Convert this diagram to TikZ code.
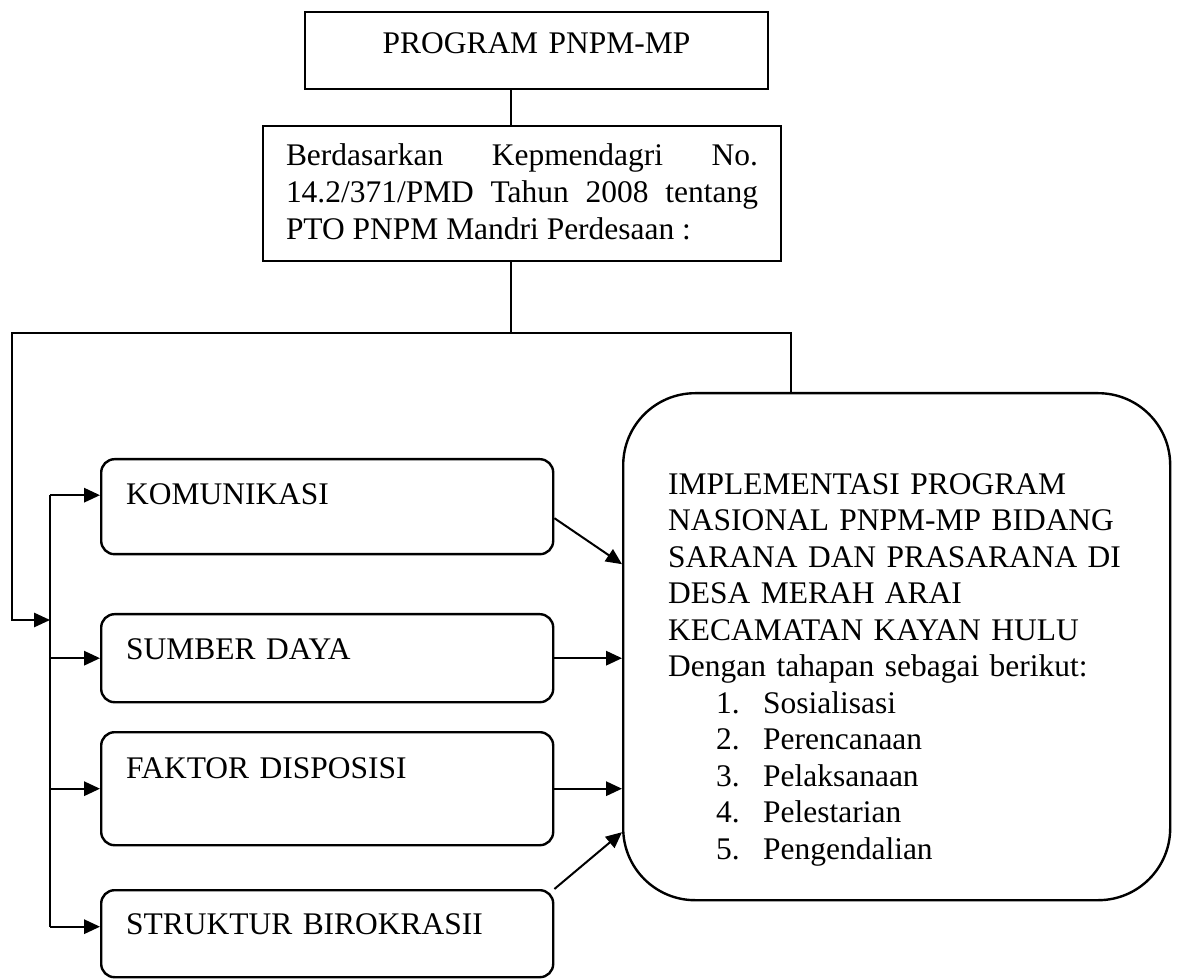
\documentclass[tikz,border=0pt]{standalone}
\usepackage{fontspec}
\setmainfont{Liberation Serif}
\usetikzlibrary{arrows.meta}
\newlength\pxu
\setlength\pxu{0.375pt}
\newcommand\tahap[1]{\hspace*{48\pxu}\makebox[47\pxu][l]{#1}}

\begin{document}
\begin{tikzpicture}[x=\pxu, y=-\pxu,
    font=\fontsize{11.8pt}{13.7pt}\selectfont,
    kotak/.style={draw, line width=0.75pt, anchor=north west, inner ysep=0pt},
    faktor/.style={draw, line width=0.9pt, rounded corners=5pt, anchor=north west, inner xsep=25\pxu, inner ysep=0pt, text width=402\pxu, align=left},
    garis/.style={line width=0.6pt},
    panah/.style={-{Triangle[length=6pt, width=5.4pt]}, line width=0.75pt}]
    \useasboundingbox (0,0) rectangle (1178,979);
    \node[kotak, inner xsep=0pt, text width=463\pxu, align=center, text height=42\pxu, text depth=35\pxu] (program) at (304,11) {PROGRAM PNPM-MP};
    \node[kotak, inner xsep=23\pxu, text width=472\pxu, align=justify, text height=40\pxu, text depth=95\pxu] (dasar) at (262,125) {Berdasarkan Kepmendagri No.\linebreak 14.2/371/PMD Tahun 2008 tentang\linebreak PTO PNPM Mandri Perdesaan :};
    \node[faktor, text height=45\pxu, text depth=50\pxu] (komunikasi) at (100,458) {KOMUNIKASI};
    \node[faktor, text height=45\pxu, text depth=43\pxu] (sumberdaya) at (100,613) {SUMBER DAYA};
    \node[faktor, text height=46\pxu, text depth=67\pxu] (disposisi) at (100,731) {FAKTOR DISPOSISI};
    \node[faktor, text height=44\pxu, text depth=43\pxu] (birokrasi) at (100,889) {STRUKTUR BIROKRASII};
    \node[draw, line width=0.9pt, rounded corners=72\pxu, anchor=north west, inner xsep=45\pxu, inner ysep=0pt, text width=457\pxu, align=left, text height=101\pxu, text depth=406\pxu] (implementasi) at (622,392) {IMPLEMENTASI PROGRAM\\
        NASIONAL PNPM-MP BIDANG\\
        \mbox{SARANA DAN PRASARANA DI}\\
        DESA MERAH ARAI\\
        KECAMATAN KAYAN HULU\\
        Dengan tahapan sebagai berikut:\\
        \tahap{1.}Sosialisasi\\
        \tahap{2.}Perencanaan\\
        \tahap{3.}Pelaksanaan\\
        \tahap{4.}Pelestarian\\
        \tahap{5.}Pengendalian};
    \coordinate (batang) at (511,333);
    \coordinate (kiri) at (12,333);
    \coordinate (kanan) at (791,333);
    \coordinate (bus) at (50,620);
    \coordinate (masuk1) at ([yshift=11.5\pxu]komunikasi.west);
    \coordinate (masuk4) at ([yshift=7\pxu]birokrasi.west);
    \draw[garis] (batang |- program.south) -- (batang |- dasar.north);
    \draw[garis] (batang |- dasar.south) -- (batang);
    \draw[panah, line width=0.6pt] (kanan |- implementasi.north) -- (kanan) -- (kiri) |- (bus);
    \draw[line width=0.75pt] (masuk1 -| bus) -- (masuk4 -| bus);
    \draw[panah] (masuk1 -| bus) -- (masuk1);
    \draw[panah] (sumberdaya.west -| bus) -- (sumberdaya.west);
    \draw[panah] (disposisi.west -| bus) -- (disposisi.west);
    \draw[panah] (masuk4 -| bus) -- (masuk4);
    \draw[panah] ([yshift=-11.5\pxu]komunikasi.east) -- ([yshift=82.5\pxu]implementasi.west);
    \draw[panah] (sumberdaya.east) -- (sumberdaya.east -| implementasi.west);
    \draw[panah] (disposisi.east) -- (disposisi.east -| implementasi.west);
    \draw[panah] (birokrasi.north east) -- ([yshift=-185.5\pxu]implementasi.west);
\end{tikzpicture}
\end{document}
